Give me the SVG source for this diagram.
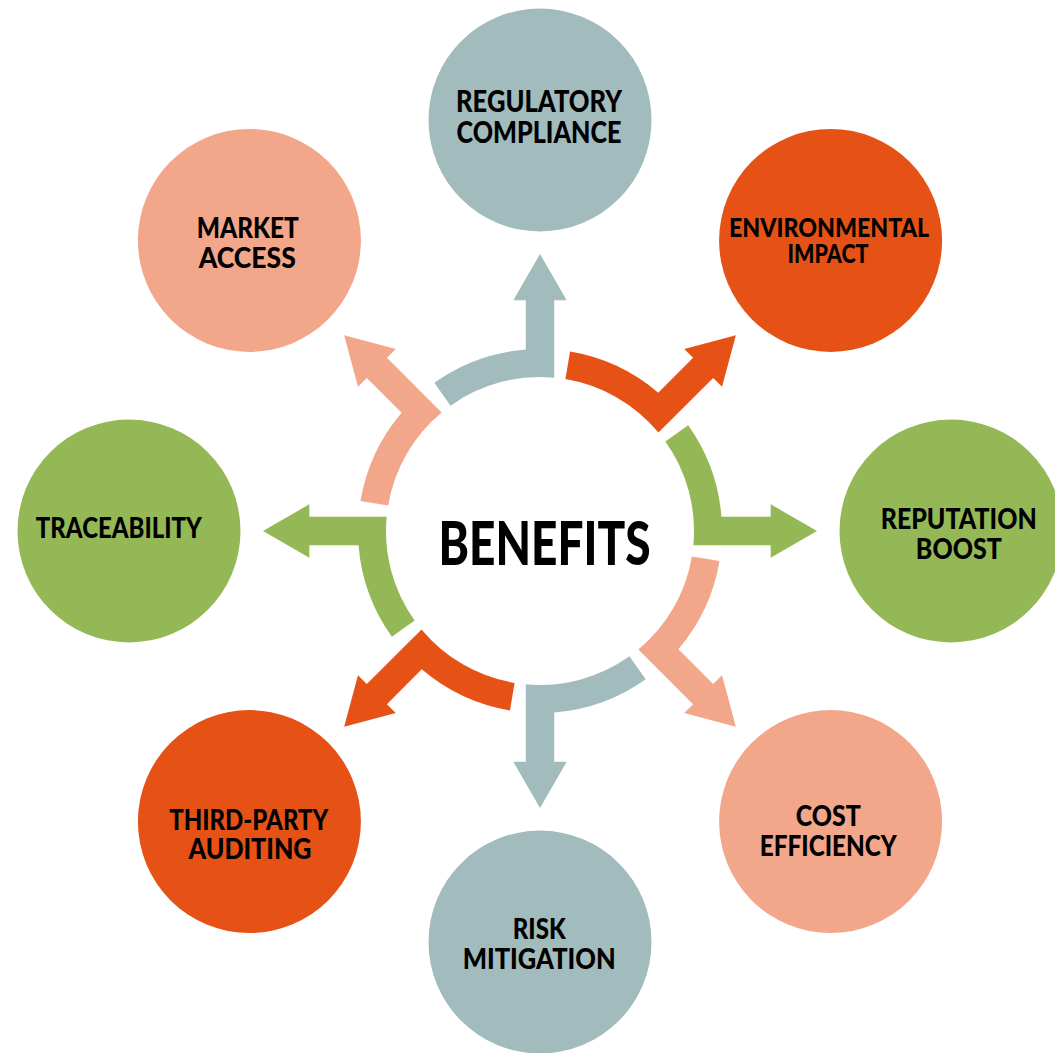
<svg xmlns="http://www.w3.org/2000/svg" xmlns:xlink="http://www.w3.org/1999/xlink" width="1055" height="1053" viewBox="0 0 1055 1053">
<style>
.blue{fill:#A2BBBC}
.orange{fill:#E65215}
.green{fill:#95B856}
.salmon{fill:#F2A68A}
.lbl{font-family:"Lato","Liberation Sans",sans-serif;font-weight:900;fill:#000;text-anchor:middle}
.title{font-family:"Lato","Liberation Sans",sans-serif;font-weight:900;fill:#000;text-anchor:middle;font-size:60px}
</style>
<defs>
<path id="arrow" d="M -105.69 -148.17 A 182 182 0 0 1 -14.2 -181.45 L -14.2 -230.7 L -26.7 -230.7 L 0 -277 L 26.7 -230.7 L 14.2 -230.7 L 14.2 -153.34 A 154 154 0 0 0 -89.43 -125.37 Z"/>
</defs>
<rect width="1055" height="1053" fill="#fff"/>
<g id="connectors">
<use xlink:href="#arrow" href="#arrow" class="blue" transform="translate(540 531) rotate(0)"/>
<use xlink:href="#arrow" href="#arrow" class="orange" transform="translate(540 531) rotate(45)"/>
<use xlink:href="#arrow" href="#arrow" class="green" transform="translate(540 531) rotate(90)"/>
<use xlink:href="#arrow" href="#arrow" class="salmon" transform="translate(540 531) rotate(135)"/>
<use xlink:href="#arrow" href="#arrow" class="blue" transform="translate(540 531) rotate(180)"/>
<use xlink:href="#arrow" href="#arrow" class="orange" transform="translate(540 531) rotate(225)"/>
<use xlink:href="#arrow" href="#arrow" class="green" transform="translate(540 531) rotate(270)"/>
<use xlink:href="#arrow" href="#arrow" class="salmon" transform="translate(540 531) rotate(315)"/>
</g>
<g id="benefits">
<text class="title" x="544.5" y="564.5" textLength="212" lengthAdjust="spacingAndGlyphs">BENEFITS</text>
</g>
<g id="regulatory-compliance">
<circle class="blue" cx="540" cy="120" r="111.5"/>
<text class="lbl" font-size="29.5"><tspan x="539" y="112" textLength="166" lengthAdjust="spacingAndGlyphs">REGULATORY</tspan><tspan x="539" y="143.3" textLength="165" lengthAdjust="spacingAndGlyphs">COMPLIANCE</tspan></text>
</g>
<g id="environmental-impact">
<circle class="orange" cx="830.6" cy="240.4" r="111.5"/>
<text class="lbl" font-size="27"><tspan x="829" y="236.7" textLength="200" lengthAdjust="spacingAndGlyphs">ENVIRONMENTAL</tspan><tspan x="828" y="263.3" textLength="81" lengthAdjust="spacingAndGlyphs">IMPACT</tspan></text>
</g>
<g id="reputation-boost">
<circle class="green" cx="951" cy="531" r="111.5"/>
<text class="lbl" font-size="28"><tspan x="958.7" y="529.3" textLength="156" lengthAdjust="spacingAndGlyphs">REPUTATION</tspan><tspan x="958.8" y="559.3" textLength="86" lengthAdjust="spacingAndGlyphs">BOOST</tspan></text>
</g>
<g id="cost-efficiency">
<circle class="salmon" cx="830.6" cy="821.6" r="111.5"/>
<text class="lbl" font-size="28"><tspan x="828.3" y="825.7" textLength="65" lengthAdjust="spacingAndGlyphs">COST</tspan><tspan x="828.3" y="856" textLength="137" lengthAdjust="spacingAndGlyphs">EFFICIENCY</tspan></text>
</g>
<g id="risk-mitigation">
<circle class="blue" cx="540" cy="942" r="111.5"/>
<text class="lbl" font-size="28"><tspan x="539.2" y="939.3" textLength="53" lengthAdjust="spacingAndGlyphs">RISK</tspan><tspan x="539.2" y="968.7" textLength="153" lengthAdjust="spacingAndGlyphs">MITIGATION</tspan></text>
</g>
<g id="third-party-auditing">
<circle class="orange" cx="249.4" cy="821.6" r="111.5"/>
<text class="lbl" font-size="28.5"><tspan x="248.8" y="830" textLength="159" lengthAdjust="spacingAndGlyphs">THIRD-PARTY</tspan><tspan x="250" y="859.3" textLength="123" lengthAdjust="spacingAndGlyphs">AUDITING</tspan></text>
</g>
<g id="traceability">
<circle class="green" cx="129" cy="531" r="111.5"/>
<text class="lbl" font-size="29" x="118.8" y="538.3" textLength="166" lengthAdjust="spacingAndGlyphs">TRACEABILITY</text>
</g>
<g id="market-access">
<circle class="salmon" cx="249.4" cy="240.4" r="111.5"/>
<text class="lbl" font-size="29"><tspan x="247.8" y="238.3" textLength="102" lengthAdjust="spacingAndGlyphs">MARKET</tspan><tspan x="247.3" y="267.7" textLength="97" lengthAdjust="spacingAndGlyphs">ACCESS</tspan></text>
</g>
</svg>
